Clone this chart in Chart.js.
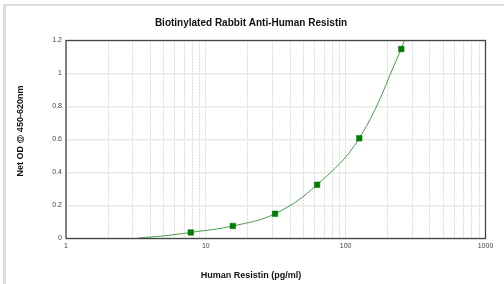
<!DOCTYPE html>
<html>
<head>
<meta charset="utf-8">
<script src="https://cdn.jsdelivr.net/npm/chart.js@4.4.1/dist/chart.umd.min.js"></script>
<style>
  html, body { margin: 0; padding: 0; background: #fff; }
  canvas { display: block; }
</style>
</head>
<body>
<canvas id="chartCanvas" width="504" height="284"></canvas>
<script>
// standards (pg/ml) and net OD
const concentrations = [7.8, 15.6, 31.25, 62.5, 125, 250];
const netOD = [0.037, 0.076, 0.15, 0.326, 0.607, 1.148];

// fitted curve
const curveX = [3.3, 5, 7.8, 15.6, 31.25, 62.5, 125, 250, 262];
const curveY = [0.003, 0.016, 0.037, 0.076, 0.15, 0.326, 0.607, 1.148, 1.2];

const xTickLabels = [1, 10, 100, 1000];
const yTickLabels = [0, 0.2, 0.4, 0.6, 0.8, 1, 1.2];

const chartTitle = "Biotinylated Rabbit Anti-Human Resistin";
const xTitle = "Human Resistin (pg/ml)";
const yTitle = "Net OD @ 450-620nm";

const FONT = "'Liberation Sans', Arial, sans-serif";

// all the log gridlines 1..9, 10..90, 100..1000
const xGrid = [];
for (let d = 1; d < 1000; d *= 10) {
  for (let m = 1; m < 10; m++) xGrid.push(m * d);
}
xGrid.push(1000);

const decor = {
  id: "decor",
  beforeDraw(c) {
    const ctx = c.ctx;
    ctx.save();
    ctx.fillStyle = "#dddddd";
    ctx.fillRect(3, 4, 501, 2);
    ctx.fillRect(3, 4, 3, 280);
    ctx.restore();
  },
  afterDraw(c) {
    const ctx = c.ctx;
    const a = c.chartArea;
    ctx.save();
    ctx.strokeStyle = "#444";
    ctx.lineWidth = 1.3;
    ctx.strokeRect(a.left, a.top, a.right - a.left, a.bottom - a.top);

    ctx.fillStyle = "#111";
    ctx.textAlign = "center";
    ctx.textBaseline = "middle";
    ctx.font = "bold 10px " + FONT;
    ctx.fillText(chartTitle, 251, 23.5);
    ctx.font = "bold 9px " + FONT;
    ctx.fillText(xTitle, 251, 276);
    ctx.translate(21, 131);
    ctx.rotate(-Math.PI / 2);
    ctx.fillText(yTitle, 0, 0);
    ctx.restore();
  }
};

new Chart(document.getElementById("chartCanvas"), {
  type: "scatter",
  data: {
    datasets: [
      {
        label: "Standards",
        data: concentrations.map((x, i) => ({ x, y: netOD[i] })),
        pointStyle: "rect",
        pointRadius: 3.9,
        pointBackgroundColor: "#008000",
        pointBorderColor: "#006600",
        pointBorderWidth: 0.5,
        showLine: false,
        order: 0
      },
      {
        label: "Fit",
        data: curveX.map((x, i) => ({ x, y: curveY[i] })),
        showLine: true,
        borderColor: "#4a9e4a",
        borderWidth: 1,
        pointRadius: 0,
        tension: 0.4,
        order: 1
      }
    ]
  },
  options: {
    responsive: false,
    animation: false,
    layout: { padding: { top: 40.5, right: 18.5, left: 0, bottom: 0 } },
    plugins: {
      legend: { display: false },
      title: { display: false },
      tooltip: { enabled: false }
    },
    scales: {
      x: {
        type: "logarithmic",
        min: 1,
        max: 1000,
        afterBuildTicks: s => { s.ticks = xGrid.map(v => ({ value: v })); },
        afterFit: s => { s.height = 45.5; },
        border: { display: false, dash: [2, 1] },
        grid: {
          color: "#dadada",
          lineWidth: 1,
          drawTicks: false
        },
        ticks: {
          autoSkip: false,
          maxRotation: 0,
          padding: 3,
          color: "#444",
          font: { family: FONT, size: 7 },
          callback: v => (xTickLabels.includes(v) ? String(v) : "")
        }
      },
      y: {
        min: 0,
        max: 1.2,
        afterBuildTicks: s => { s.ticks = yTickLabels.map(v => ({ value: v })); },
        afterFit: s => { s.width = 66; },
        border: { display: false },
        grid: { color: "#e8e8e8", lineWidth: 1.5, drawTicks: false },
        ticks: {
          padding: 4,
          color: "#444",
          font: { family: FONT, size: 7 },
          callback: v => String(+v.toFixed(1))
        }
      }
    }
  },
  plugins: [decor]
});
</script>
</body>
</html>
